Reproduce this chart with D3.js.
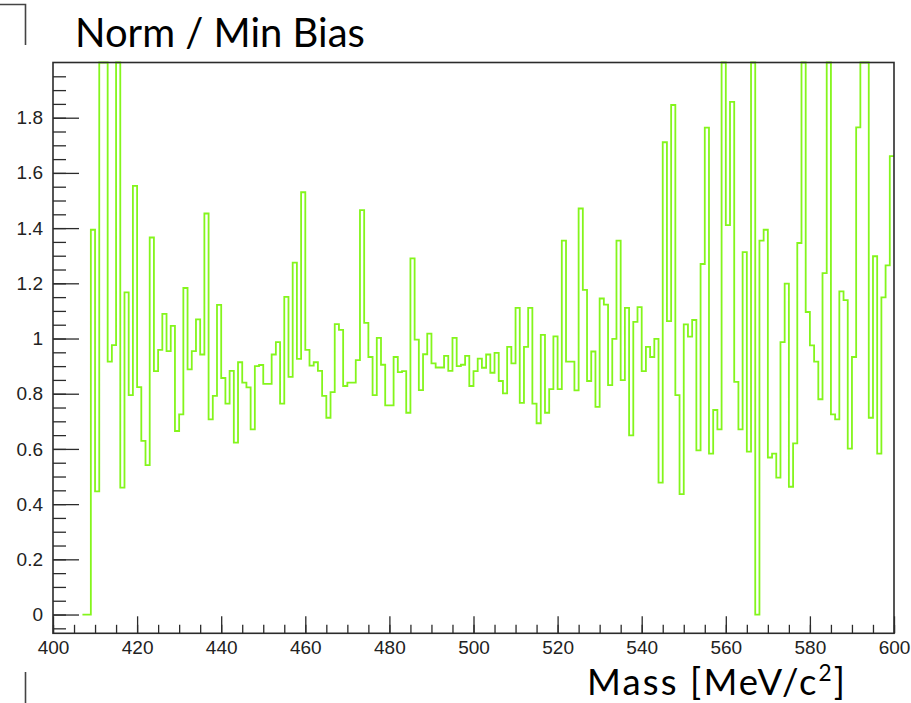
<!DOCTYPE html>
<html>
<head>
<meta charset="utf-8">
<script src="https://cdn.jsdelivr.net/npm/d3@7"></script>
<style>
  html, body { margin: 0; padding: 0; background: #fff; }
  svg { display: block; }
</style>
</head>
<body>
<svg id="chart" width="911" height="703"></svg>
<script>
// Histogram binning: 1 MeV/c^2 bins starting at 407 MeV/c^2
const binStart = 407;
const binWidth = 1;

// Ratio Norm / Min Bias per bin (bins 407 ... 599); values above 2 run off the frame
const ratio = [
  0, 0, 1.394, 0.446, 2.3, 2.3, 0.916, 0.976, 2.3, 0.460,          // 407-416
  1.167, 0.795, 1.553, 0.824, 0.629, 0.541, 1.366, 0.882, 0.959, 1.089, // 417-426
  0.954, 1.046, 0.665, 0.725, 1.183, 0.888, 0.954, 1.069, 0.942, 1.453, // 427-436
  0.707, 0.792, 1.122, 0.857, 0.764, 0.883, 0.623, 0.914, 0.840, 0.823, // 437-446
  0.671, 0.900, 0.904, 0.836, 0.836, 0.942, 0.987, 0.764, 1.151, 0.861, // 447-456
  1.275, 0.926, 1.530, 0.959, 0.902, 0.914, 0.883, 0.792, 0.713, 0.806, // 457-466
  1.052, 1.031, 0.828, 0.840, 0.840, 0.922, 1.465, 1.057, 0.933, 0.795, // 467-476
  1.002, 0.905, 0.758, 0.758, 0.933, 0.878, 0.882, 0.731, 1.290, 0.996, // 477-486
  0.813, 0.943, 1.018, 0.910, 0.895, 0.895, 0.937, 0.883, 1.002, 0.900, // 487-496
  0.905, 0.937, 0.828, 0.882, 0.927, 0.894, 0.942, 0.876, 0.948, 0.846, // 497-506
  0.801, 0.970, 0.910, 1.111, 0.767, 0.970, 1.111, 0.764, 0.693, 1.013, // 507-516
  0.731, 0.817, 1.008, 0.817, 1.355, 0.916, 0.916, 0.812, 1.471, 1.176, // 517-526
  0.846, 0.953, 0.752, 1.145, 1.123, 0.831, 0.999, 1.355, 0.849, 1.111, // 527-536
  0.649, 1.060, 1.114, 0.882, 0.970, 0.933, 0.999, 0.478, 1.711, 1.063, // 537-546
  1.846, 0.795, 0.436, 1.051, 1.007, 1.067, 0.595, 1.270, 1.764, 0.583, // 547-556
  0.741, 0.671, 2.3, 1.411, 1.857, 0.843, 0.671, 1.313, 0.590, 2.3,     // 557-566
  0, 1.355, 1.394, 0.569, 0.583, 0.496, 0.987, 1.199, 0.463, 0.620,    // 567-576
  1.346, 2.3, 1.096, 0.975, 0.916, 0.780, 1.237, 2.3, 0.725, 0.707,    // 577-586
  1.171, 1.139, 0.601, 0.933, 1.765, 2.3, 2.3, 0.713, 1.298, 0.583,    // 587-596
  1.149, 1.265, 1.661                                                   // 597-599
];

// Axis ticks
const xMajorTicks = [400, 420, 440, 460, 480, 500, 520, 540, 560, 580, 600];
const xMinorTicks = d3.range(400, 601, 5);
const yMajorTicks = [0, 0.2, 0.4, 0.6, 0.8, 1, 1.2, 1.4, 1.6, 1.8];
const yMinorTicks = d3.range(-1, 40).map(i => i * 0.05);

const xDomain = [400, 600];
const yDomain = [-0.068, 2.0];

const titleText = "Norm / Min Bias";

// Frame geometry
const frame = { left: 53, right: 894, top: 62.5, bottom: 633.3 };

const svg = d3.select("#chart");

const x = d3.scaleLinear().domain(xDomain).range([frame.left, frame.right]);
const y = d3.scaleLinear().domain(yDomain).range([frame.bottom, frame.top]);
// Histogram contents above the frame are drawn along its top edge
const yHist = y.copy().clamp(true);

const axisColor = "#2b2b2b";
const labelFont = "'Liberation Sans', Arial, Helvetica, sans-serif";

// Histogram outline (step line)
const pts = ratio.map((v, i) => [binStart + i * binWidth, v]);
pts.push([binStart + ratio.length * binWidth, ratio[ratio.length - 1]]);
const step = d3.line()
  .x(d => x(d[0]))
  .y(d => yHist(d[1]))
  .curve(d3.curveStepAfter);

svg.append("path")
  .attr("d", step(pts))
  .attr("fill", "none")
  .attr("stroke", "#84f51c")
  .attr("stroke-width", 1.8)
  .attr("stroke-linejoin", "miter");

// X axis: minor ticks, then major ticks with labels (ticks point into the frame)
const gxMinor = svg.append("g")
  .attr("transform", `translate(0,${frame.bottom})`)
  .call(d3.axisBottom(x).tickValues(xMinorTicks).tickSize(-8.5).tickFormat(""));
const gx = svg.append("g")
  .attr("transform", `translate(0,${frame.bottom})`)
  .call(d3.axisBottom(x).tickValues(xMajorTicks).tickSizeInner(-17).tickSizeOuter(0)
    .tickPadding(7.5).tickFormat(d3.format("d")));

// Y axis
const gyMinor = svg.append("g")
  .attr("transform", `translate(${frame.left},0)`)
  .call(d3.axisLeft(y).tickValues(yMinorTicks).tickSize(-13).tickFormat(""));
const gy = svg.append("g")
  .attr("transform", `translate(${frame.left},0)`)
  .call(d3.axisLeft(y).tickValues(yMajorTicks).tickSizeInner(-26).tickSizeOuter(0)
    .tickPadding(10).tickFormat(d => d3.format("~g")(+d.toFixed(1))));

[gxMinor, gx, gyMinor, gy].forEach(g => {
  g.select(".domain").remove();
  g.selectAll(".tick line").attr("stroke", axisColor).attr("stroke-width", 1.3);
  g.selectAll(".tick text")
    .attr("fill", "#222")
    .style("font-family", labelFont)
    .style("font-size", "19px");
});

// Frame
svg.append("rect")
  .attr("x", frame.left)
  .attr("y", frame.top)
  .attr("width", frame.right - frame.left)
  .attr("height", frame.bottom - frame.top)
  .attr("fill", "none")
  .attr("stroke", axisColor)
  .attr("stroke-width", 1.6);

// Fit a text element's font size so that it spans the given width
function fitWidth(sel, width) {
  const w = sel.node().getComputedTextLength();
  const fs = parseFloat(sel.style("font-size"));
  sel.style("font-size", (fs * width / w) + "px");
}
// Spread the letters of a text element so that it spans the given width
function spreadTo(sel, width) {
  const w = sel.node().getComputedTextLength();
  const n = sel.text().length;
  sel.style("letter-spacing", ((width - w) / (n - 1)) + "px");
}

const titleFont = "Lato, 'Open Sans', 'Noto Sans', sans-serif";

// Title
const title = svg.append("text")
  .attr("x", 75)
  .attr("y", 47)
  .attr("fill", "#000")
  .style("font-family", titleFont)
  .style("font-size", "36px")
  .text(titleText);
fitWidth(title, 290);

// X axis title with superscript
const xTitle = svg.append("text")
  .attr("x", 587)
  .attr("y", 694.5)
  .attr("fill", "#000")
  .style("font-family", titleFont)
  .style("font-size", "36.5px");
xTitle.append("tspan").text("Mass [MeV/c");
xTitle.append("tspan").attr("dy", -14).style("font-size", "0.62em").text("2");
xTitle.append("tspan").attr("dy", 14).text("]");
spreadTo(xTitle, 258);

// Surrounding box fragments
svg.append("path")
  .attr("d", "M0,4.5H25.5V45")
  .attr("fill", "none")
  .attr("stroke", "#444")
  .attr("stroke-width", 1.6);
svg.append("path")
  .attr("d", "M25.5,672V703")
  .attr("fill", "none")
  .attr("stroke", "#444")
  .attr("stroke-width", 1.6);
</script>
</body>
</html>
